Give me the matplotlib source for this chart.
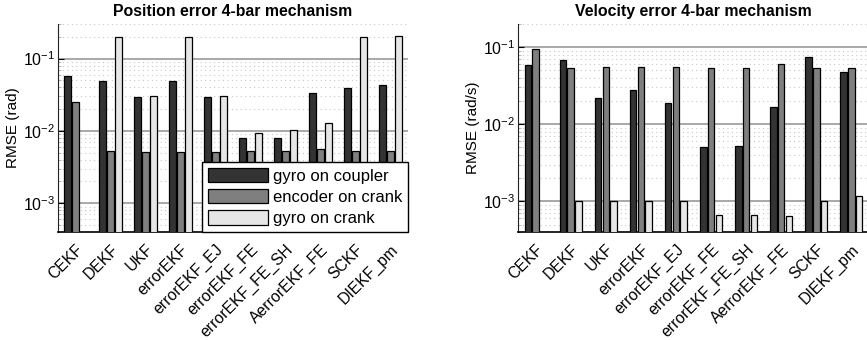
import numpy as np
import matplotlib
matplotlib.use("Agg")
import matplotlib.pyplot as plt

plt.rcParams['font.family'] = ['Liberation Sans', 'DejaVu Sans']

methods = ["CEKF", "DEKF", "UKF", "errorEKF", "errorEKF_EJ", "errorEKF_FE",
           "errorEKF_FE_SH", "AerrorEKF_FE", "SCKF", "DIEKF_pm"]
series_names = ["gyro on coupler", "encoder on crank", "gyro on crank"]

pos_gyro_coupler = [0.057, 0.049, 0.029, 0.049, 0.029, 0.008, 0.008, 0.033, 0.039, 0.0425]
pos_encoder_crank = [0.025, 0.0053, 0.0051, 0.0051, 0.0051, 0.0053, 0.0053, 0.0057, 0.0053, 0.0053]
pos_gyro_crank = [np.nan, 0.198, 0.030, 0.198, 0.030, 0.0093, 0.0102, 0.0128, 0.198, 0.204]

vel_gyro_coupler = [0.0596, 0.068, 0.022, 0.0275, 0.019, 0.0051, 0.0052, 0.0166, 0.075, 0.047]
vel_encoder_crank = [0.096, 0.0545, 0.0555, 0.056, 0.056, 0.0545, 0.054, 0.061, 0.0545, 0.0545]
vel_gyro_crank = [np.nan, 0.001, 0.001, 0.001, 0.001, 0.00067, 0.00067, 0.00065, 0.001, 0.00117]

colors = ["#333333", "#7f7f7f", "#e6e6e6"]

W, H = 867, 340
fig = plt.figure(figsize=(W / 100, H / 100), dpi=100)

def px_axes(x0, x1, y0, y1):
    return fig.add_axes([x0 / W, 1 - y1 / H, (x1 - x0) / W, (y1 - y0) / H])

ax1 = px_axes(58, 408, 24, 232)
ax2 = px_axes(518, 869, 24, 232)

def draw(ax, data, ylim, title, ylabel, legend=False):
    x = np.arange(1, len(methods) + 1)
    step = 0.222
    bw = 0.185
    for i, (vals, c) in enumerate(zip(data, colors)):
        ax.bar(x + (i - 1) * step, vals, width=bw, color=c,
               edgecolor="black", linewidth=0.9, zorder=3,
               label=series_names[i])
    ax.set_yscale("log")
    ax.set_ylim(*ylim)
    ax.set_xlim(0.5, len(methods) + 0.5)
    ax.set_xticks(x)
    ax.set_xticklabels(methods, rotation=45, ha="right",
                       rotation_mode="anchor", fontsize=11.3)
    ax.set_yticks([1e-3, 1e-2, 1e-1])
    ax.tick_params(axis="y", which="major", direction="in", length=4,
                   labelsize=11.5, width=0.8, pad=2)
    ax.tick_params(axis="y", which="minor", direction="in", length=2,
                   color="#aaaaaa", width=0.6)
    ax.tick_params(axis="x", length=0, pad=7)
    ax.grid(True, axis="y", which="major", color="#999999",
            linestyle="-", linewidth=1.2, zorder=0)
    ax.grid(True, axis="y", which="minor", color="#c8c8c8",
            linestyle=(0, (1, 3)), linewidth=0.8, zorder=0)
    ax.spines["top"].set_visible(False)
    ax.spines["right"].set_visible(False)
    ax.spines["left"].set_color("#222222")
    ax.spines["bottom"].set_color("black")
    ax.spines["bottom"].set_linewidth(1.2)
    ax.set_title(title, fontsize=11.4, fontweight="bold", pad=6)
    ax.set_ylabel(ylabel, fontsize=11, labelpad=2)
    if legend:
        leg = ax.legend(loc="lower right", bbox_to_anchor=(1.0, 0.0),
                        borderaxespad=0, fancybox=False, framealpha=1,
                        edgecolor="black", fontsize=12, handlelength=3.6,
                        handleheight=0.95, labelspacing=0.32,
                        handletextpad=0.3, borderpad=0.35)
        leg.get_frame().set_linewidth(1.0)
        leg.set_zorder(5)

draw(ax1, [pos_gyro_coupler, pos_encoder_crank, pos_gyro_crank],
     (4e-4, 0.3), "Position error 4-bar mechanism", "RMSE (rad)", legend=True)
draw(ax2, [vel_gyro_coupler, vel_encoder_crank, vel_gyro_crank],
     (4e-4, 0.2), "Velocity error 4-bar mechanism", "RMSE (rad/s)")

fig.savefig("out.png", dpi=100)
